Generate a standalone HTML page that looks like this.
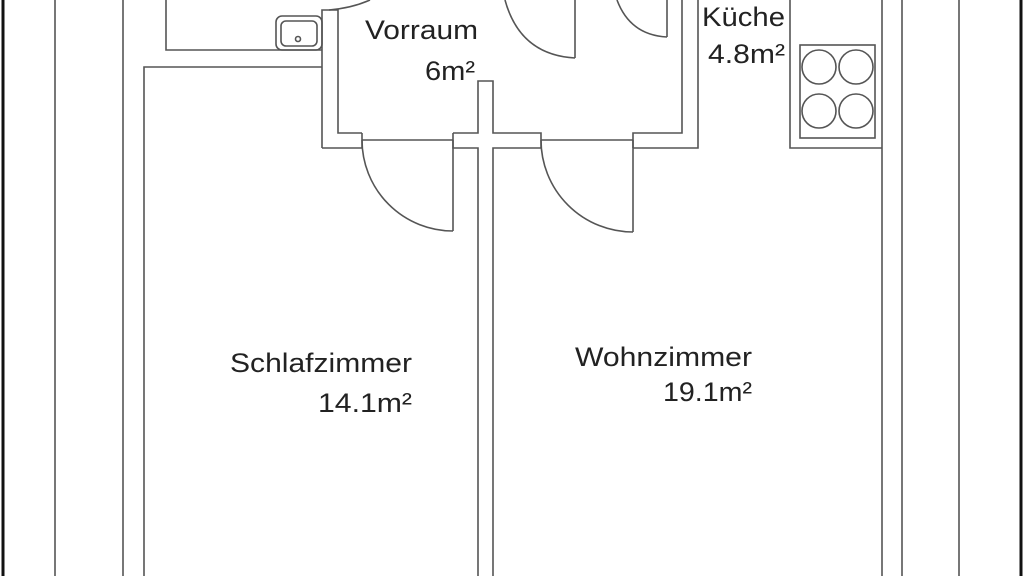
<!DOCTYPE html>
<html><head><style>
html,body{margin:0;padding:0;background:#fff;width:1024px;height:576px;overflow:hidden}
text{font-family:"Liberation Sans",sans-serif;font-size:27px;fill:#222}
</style></head><body>
<svg width="1024" height="576" viewBox="0 0 1024 576" xmlns="http://www.w3.org/2000/svg">
<g fill="none" stroke="#555" stroke-width="1.6">
<line x1="3" y1="0" x2="3" y2="576" stroke="#111" stroke-width="3"/>
<line x1="1021" y1="0" x2="1021" y2="576" stroke="#111" stroke-width="3"/>
<line x1="55" y1="0" x2="55" y2="576"/>
<line x1="123" y1="0" x2="123" y2="576"/>
<line x1="882" y1="0" x2="882" y2="576"/>
<line x1="902" y1="0" x2="902" y2="576"/>
<line x1="959" y1="0" x2="959" y2="576"/>
<polyline points="166,0 166,50 322,50"/>
<rect x="276" y="16" width="46" height="34" rx="6"/>
<rect x="281" y="21" width="36" height="25" rx="5"/>
<circle cx="298" cy="39" r="2.5"/>
<polyline points="322,148 322,10 338,10 338,133 362,133"/>
<path d="M329,10 Q352,8 370,0"/>
<polyline points="144,576 144,67 322,67"/>
<polyline points="322,148 362,148 362,133"/>
<line x1="362" y1="140" x2="453" y2="140"/>
<path d="M362,140 A91,91 0 0 0 453,231"/>
<line x1="453" y1="140" x2="453" y2="231"/>
<polyline points="453,133 453,148 478,148 478,576"/>
<polyline points="453,133 478,133 478,81 493,81 493,133 541,133 541,148"/>
<polyline points="493,576 493,148 541,148"/>
<line x1="541" y1="140" x2="633" y2="140"/>
<path d="M541,140 A92,92 0 0 0 633,232"/>
<line x1="633" y1="140" x2="633" y2="232"/>
<polyline points="633,148 633,133 682,133 682,0"/>
<polyline points="633,148 698,148 698,0"/>
<path d="M505,0 Q520,55 575,58"/><line x1="575" y1="0" x2="575" y2="58"/>
<path d="M617,0 Q630,35 667,37"/><line x1="667" y1="0" x2="667" y2="37"/>
<polyline points="790,0 790,148 882,148"/>
<rect x="800" y="45" width="75" height="93"/>
<circle cx="819" cy="67" r="17"/><circle cx="856" cy="67" r="17"/>
<circle cx="819" cy="111" r="17"/><circle cx="856" cy="111" r="17"/>
</g>
<text x="365" y="39" textLength="113" lengthAdjust="spacingAndGlyphs">Vorraum</text>
<text x="425" y="80" textLength="50" lengthAdjust="spacingAndGlyphs">6m²</text>
<text x="702" y="26" textLength="83" lengthAdjust="spacingAndGlyphs">Küche</text>
<text x="708" y="63" textLength="77" lengthAdjust="spacingAndGlyphs">4.8m²</text>
<text x="230" y="372" textLength="182" lengthAdjust="spacingAndGlyphs">Schlafzimmer</text>
<text x="318" y="412" textLength="94" lengthAdjust="spacingAndGlyphs">14.1m²</text>
<text x="575" y="366" textLength="177" lengthAdjust="spacingAndGlyphs">Wohnzimmer</text>
<text x="663" y="401" textLength="89" lengthAdjust="spacingAndGlyphs">19.1m²</text>
</svg>
</body></html>
